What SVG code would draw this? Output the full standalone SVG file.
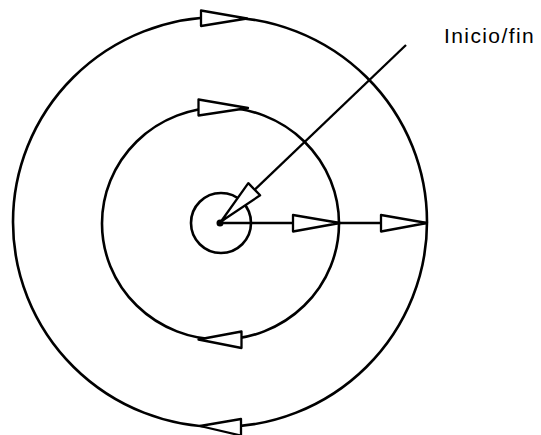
<svg xmlns="http://www.w3.org/2000/svg" width="541" height="435" viewBox="0 0 541 435">
<style>
.c{fill:none;stroke:#000;stroke-width:2.6}
.l{fill:none;stroke:#000;stroke-width:2.3}
.a{fill:#fff;stroke:#000;stroke-width:2.3;stroke-linejoin:round}
.t{font-family:"Liberation Sans",Arial,sans-serif;font-size:21px;letter-spacing:1.4px;fill:#000}
</style>
<rect width="541" height="435" fill="#fff"/>
<g id="outer-circle">
<ellipse class="c" cx="220" cy="222" rx="207" ry="205"/>
</g>
<g id="inner-circle">
<ellipse class="c" cx="220.5" cy="223.5" rx="118.5" ry="116"/>
</g>
<g id="center-circle">
<circle class="c" cx="221" cy="223" r="30"/>
<circle cx="220" cy="223" r="3.5" fill="#000"/>
</g>
<g id="connectors">
<line class="l" x1="220" y1="223" x2="427" y2="223"/>
<line class="l" x1="220" y1="223" x2="406" y2="45"/>
<polygon class="a" points="293,215 293,231.5 340,223"/>
<polygon class="a" points="381,215 381,231.5 427,223"/>
<polygon class="a" points="248.3,183.1 260.1,195.3 221,221.5"/>
<polygon class="a" points="201,10.5 201,26 247,18.5"/>
<polygon class="a" points="198.5,99.5 198.5,115.5 248,108"/>
<polygon class="a" points="241.5,331.5 241.5,348 198.5,339.5"/>
<polygon class="a" points="241,419 241,435.5 200,426"/>
</g>
<g id="label">
<text class="t" x="444" y="42.5">Inicio/fin</text>
</g>
</svg>
